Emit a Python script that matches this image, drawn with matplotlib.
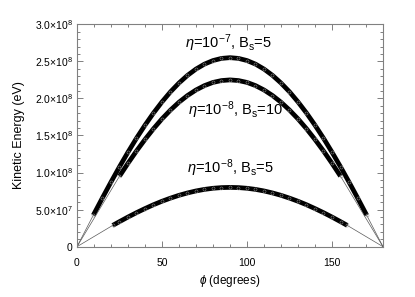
import matplotlib
matplotlib.use('Agg')
import matplotlib.pyplot as plt
from matplotlib.ticker import MultipleLocator, FixedLocator, FixedFormatter

plt.rcParams['font.family'] = ['Liberation Sans', 'DejaVu Sans']
plt.rcParams['mathtext.fontset'] = 'custom'
plt.rcParams['mathtext.rm'] = 'Liberation Sans'
plt.rcParams['mathtext.it'] = 'Liberation Sans:italic'
plt.rcParams['mathtext.default'] = 'regular'

# phi (degrees) and kinetic energy (eV)
phi_a = [9.6, 15, 20, 25, 30, 35, 40, 45, 50, 55, 60, 65, 70, 75, 80, 85, 90,
         95, 100, 105, 110, 115, 120, 125, 130, 135, 140, 145, 150, 155, 160, 165, 170.4]
energy_a = [4.25e7, 6.6e7, 8.72e7, 1.078e8, 1.275e8, 1.463e8, 1.639e8, 1.803e8, 1.953e8,
            2.089e8, 2.208e8, 2.311e8, 2.396e8, 2.463e8, 2.511e8, 2.540e8, 2.55e8,
            2.540e8, 2.511e8, 2.463e8, 2.396e8, 2.311e8, 2.208e8, 2.089e8, 1.953e8,
            1.803e8, 1.639e8, 1.463e8, 1.275e8, 1.078e8, 8.72e7, 6.6e7, 4.25e7]

phi_b = [25, 30, 35, 40, 45, 50, 55, 60, 65, 70, 75, 80, 85, 90,
         95, 100, 105, 110, 115, 120, 125, 130, 135, 140, 145, 150, 155]
energy_b = [9.51e7, 1.125e8, 1.291e8, 1.446e8, 1.591e8, 1.724e8, 1.843e8, 1.949e8,
            2.039e8, 2.114e8, 2.173e8, 2.216e8, 2.241e8, 2.25e8,
            2.241e8, 2.216e8, 2.173e8, 2.114e8, 2.039e8, 1.949e8, 1.843e8, 1.724e8,
            1.591e8, 1.446e8, 1.291e8, 1.125e8, 9.51e7]

phi_c = [21, 25, 30, 35, 40, 45, 50, 55, 60, 65, 70, 75, 80, 85, 90,
         95, 100, 105, 110, 115, 120, 125, 130, 135, 140, 145, 150, 155, 159]
energy_c = [2.87e7, 3.38e7, 4.0e7, 4.59e7, 5.14e7, 5.66e7, 6.13e7, 6.55e7, 6.93e7,
            7.25e7, 7.52e7, 7.73e7, 7.88e7, 7.97e7, 8.0e7,
            7.97e7, 7.88e7, 7.73e7, 7.52e7, 7.25e7, 6.93e7, 6.55e7, 6.13e7,
            5.66e7, 5.14e7, 4.59e7, 4.0e7, 3.38e7, 2.87e7]

curves = [(phi_a, energy_a), (phi_b, energy_b), (phi_c, energy_c)]

labels = [r'$\mathit{\eta}$=10$^{-7}$, B$_{\rm s}$=5',
          r'$\mathit{\eta}$=10$^{-8}$, B$_{\rm s}$=10',
          r'$\mathit{\eta}$=10$^{-8}$, B$_{\rm s}$=5']
label_pos = [(89, 2.74e8), (93.5, 1.84e8), (90, 1.06e8)]

y_ticks = [0, 5e7, 1e8, 1.5e8, 2e8, 2.5e8, 3e8]
y_ticklabels = ['0', r'5.0$\times$10$^7$', r'1.0$\times$10$^8$', r'1.5$\times$10$^8$',
                r'2.0$\times$10$^8$', r'2.5$\times$10$^8$', r'3.0$\times$10$^8$']
x_ticks = [0, 50, 100, 150]

fig = plt.figure(figsize=(4.15, 2.97), dpi=100)
ax = fig.add_axes([0.1855, 0.1694, 0.7374, 0.7488])

for phi, energy in curves:
    # thin connecting lines to the end points at 0 and 180 degrees
    ax.plot([0, phi[0]], [0, energy[0]], color='0.35', lw=0.5)
    ax.plot([phi[-1], 180], [energy[-1], 0], color='0.35', lw=0.5)
    ax.plot(phi, energy, color='black', lw=3.4, solid_capstyle='butt',
            marker='o', ms=2.2, mfc='none', mec='0.6', mew=0.35)

for text, (x, y) in zip(labels, label_pos):
    ax.text(x, y, text, ha='center', va='center', fontsize=10.5)

ax.set_xlim(0, 180)
ax.set_ylim(0, 3e8)
ax.xaxis.set_major_locator(FixedLocator(x_ticks))
ax.xaxis.set_minor_locator(MultipleLocator(10))
ax.yaxis.set_major_locator(FixedLocator(y_ticks))
ax.yaxis.set_major_formatter(FixedFormatter(y_ticklabels))
ax.yaxis.set_minor_locator(MultipleLocator(1e7))

ax.tick_params(which='both', direction='in', top=True, right=True, color='0.5', width=0.7)
ax.tick_params(which='major', length=4)
ax.tick_params(which='minor', length=2)
ax.tick_params(axis='x', which='major', pad=8, labelsize=7.5)
ax.tick_params(axis='y', which='major', pad=3, labelsize=7.5)
for spine in ax.spines.values():
    spine.set_color('0.5')
    spine.set_linewidth(0.8)

ax.set_xlabel(r'$\mathit{\phi}$ (degrees)', fontsize=8.5)
ax.set_ylabel('Kinetic Energy (eV)', fontsize=9)
ax.xaxis.set_label_coords(0.5, -0.154)
ax.yaxis.set_label_coords(-0.19, 0.5)
ax.xaxis.label.set_va('center')
ax.yaxis.label.set_va('center')

fig.savefig('out.png', dpi=100)
